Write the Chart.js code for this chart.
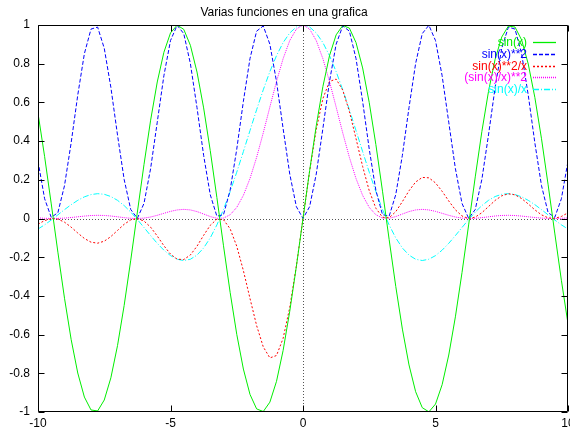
<!DOCTYPE html>
<html>
<head>
<meta charset="utf-8">
<script src="https://cdn.jsdelivr.net/npm/chart.js@4/dist/chart.umd.min.js"></script>
<style>
html,body{margin:0;padding:0;background:#fff;}
canvas{display:block;}
</style>
</head>
<body>
<canvas id="c" width="570" height="431"></canvas>
<script>
const titleText = 'Varias funciones en una grafica';
const seriesNames = ['sin(x)', 'sin(x)**2', 'sin(x)**2/x', '(sin(x)/x)**2', 'sin(x)/x'];
const xTicks = [-10, -5, 0, 5, 10];
const xTickLabels = ['-10', '-5', '0', '5', '10'];
const yTicks = [-1, -0.8, -0.6, -0.4, -0.2, 0, 0.2, 0.4, 0.6, 0.8, 1];
const yTickLabels = ['-1', '-0.8', '-0.6', '-0.4', '-0.2', '0', '0.2', '0.4', '0.6', '0.8', '1'];

const xs = [-10,-9.75,-9.5,-9.25,-9,-8.75,-8.5,-8.25,-8,-7.75,-7.5,-7.25,-7,-6.75,-6.5,-6.25,-6,-5.75,-5.5,-5.25,-5,-4.75,-4.5,-4.25,-4,-3.75,-3.5,-3.25,-3,-2.75,-2.5,-2.25,-2,-1.75,-1.5,-1.25,-1,-0.75,-0.5,-0.25,0,0.25,0.5,0.75,1,1.25,1.5,1.75,2,2.25,2.5,2.75,3,3.25,3.5,3.75,4,4.25,4.5,4.75,5,5.25,5.5,5.75,6,6.25,6.5,6.75,7,7.25,7.5,7.75,8,8.25,8.5,8.75,9,9.25,9.5,9.75,10];

const sinVals = [0.544,0.3195,0.0752,-0.1739,-0.4121,-0.6247,-0.7985,-0.9228,-0.9894,-0.9946,-0.938,-0.8231,-0.657,-0.45,-0.2151,0.0332,0.2794,0.5083,0.7055,0.8589,0.9589,0.9993,0.9775,0.895,0.7568,0.5716,0.3508,0.1082,-0.1411,-0.3817,-0.5985,-0.7781,-0.9093,-0.984,-0.9975,-0.949,-0.8415,-0.6816,-0.4794,-0.2474,0,0.2474,0.4794,0.6816,0.8415,0.949,0.9975,0.984,0.9093,0.7781,0.5985,0.3817,0.1411,-0.1082,-0.3508,-0.5716,-0.7568,-0.895,-0.9775,-0.9993,-0.9589,-0.8589,-0.7055,-0.5083,-0.2794,-0.0332,0.2151,0.45,0.657,0.8231,0.938,0.9946,0.9894,0.9228,0.7985,0.6247,0.4121,0.1739,-0.0752,-0.3195,-0.544];

const sinSqVals = [0.2959,0.1021,0.0057,0.0302,0.1698,0.3902,0.6376,0.8516,0.9789,0.9892,0.8798,0.6775,0.4316,0.2025,0.0463,0.0011,0.0781,0.2584,0.4977,0.7377,0.9195,0.9986,0.9555,0.801,0.5728,0.3267,0.1231,0.0117,0.0199,0.1457,0.3582,0.6054,0.8268,0.9683,0.995,0.9006,0.7081,0.4646,0.2298,0.0612,0,0.0612,0.2298,0.4646,0.7081,0.9006,0.995,0.9683,0.8268,0.6054,0.3582,0.1457,0.0199,0.0117,0.1231,0.3267,0.5728,0.801,0.9555,0.9986,0.9195,0.7377,0.4977,0.2584,0.0781,0.0011,0.0463,0.2025,0.4316,0.6775,0.8798,0.9892,0.9789,0.8516,0.6376,0.3902,0.1698,0.0302,0.0057,0.1021,0.2959];

const sinSqOverXVals = [-0.0296,-0.0105,-0.0006,-0.0033,-0.0189,-0.0446,-0.075,-0.1032,-0.1224,-0.1276,-0.1173,-0.0934,-0.0617,-0.03,-0.0071,-0.0002,-0.013,-0.0449,-0.0905,-0.1405,-0.1839,-0.2102,-0.2123,-0.1885,-0.1432,-0.0871,-0.0352,-0.0036,-0.0066,-0.053,-0.1433,-0.2691,-0.4134,-0.5533,-0.6633,-0.7205,-0.7081,-0.6194,-0.4597,-0.2448,0,0.2448,0.4597,0.6194,0.7081,0.7205,0.6633,0.5533,0.4134,0.2691,0.1433,0.053,0.0066,0.0036,0.0352,0.0871,0.1432,0.1885,0.2123,0.2102,0.1839,0.1405,0.0905,0.0449,0.013,0.0002,0.0071,0.03,0.0617,0.0934,0.1173,0.1276,0.1224,0.1032,0.075,0.0446,0.0189,0.0033,0.0006,0.0105,0.0296];

const sincSqVals = [0.003,0.0011,0.0001,0.0004,0.0021,0.0051,0.0088,0.0125,0.0153,0.0165,0.0156,0.0129,0.0088,0.0044,0.0011,0,0.0022,0.0078,0.0165,0.0268,0.0368,0.0443,0.0472,0.0443,0.0358,0.0232,0.01,0.0011,0.0022,0.0193,0.0573,0.1196,0.2067,0.3162,0.4422,0.5764,0.7081,0.8261,0.9195,0.9793,1,0.9793,0.9195,0.8261,0.7081,0.5764,0.4422,0.3162,0.2067,0.1196,0.0573,0.0193,0.0022,0.0011,0.01,0.0232,0.0358,0.0443,0.0472,0.0443,0.0368,0.0268,0.0165,0.0078,0.0022,0,0.0011,0.0044,0.0088,0.0129,0.0156,0.0165,0.0153,0.0125,0.0088,0.0051,0.0021,0.0004,0.0001,0.0011,0.003];

const sincVals = [-0.0544,-0.0328,-0.0079,0.0188,0.0458,0.0714,0.0939,0.1119,0.1237,0.1283,0.1251,0.1135,0.0939,0.0667,0.0331,-0.0053,-0.0466,-0.0884,-0.1283,-0.1636,-0.1918,-0.2104,-0.2172,-0.2106,-0.1892,-0.1524,-0.1002,-0.0333,0.047,0.1388,0.2394,0.3458,0.4546,0.5623,0.665,0.7592,0.8415,0.9089,0.9589,0.9896,1,0.9896,0.9589,0.9089,0.8415,0.7592,0.665,0.5623,0.4546,0.3458,0.2394,0.1388,0.047,-0.0333,-0.1002,-0.1524,-0.1892,-0.2106,-0.2172,-0.2104,-0.1918,-0.1636,-0.1283,-0.0884,-0.0466,-0.0053,0.0331,0.0667,0.0939,0.1135,0.1251,0.1283,0.1237,0.1119,0.0939,0.0714,0.0458,0.0188,-0.0079,-0.0328,-0.0544];

const seriesValues = [sinVals, sinSqVals, sinSqOverXVals, sincSqVals, sincVals];
const seriesColors = ['#00ee00', '#0000ff', '#ff0000', '#ff00ff', '#00ffff'];
const seriesDashes = [[], [4, 2], [2, 2], [1, 1], [6, 2, 1, 2]];

const FONT = '"Liberation Sans", Arial, sans-serif';

const datasets = seriesNames.map((name, i) => ({
  label: name,
  data: xs.map((x, j) => ({ x: x, y: seriesValues[i][j] })),
  borderColor: seriesColors[i],
  backgroundColor: seriesColors[i],
  borderWidth: 1,
  borderDash: seriesDashes[i],
  pointRadius: 0,
  pointHoverRadius: 0,
  tension: 0,
  fill: false
}));

const frame = {
  id: 'gnuplotFrame',
  beforeDatasetsDraw(chart) {
    const { ctx, chartArea: a, scales: { x, y } } = chart;
    ctx.save();
    ctx.strokeStyle = '#555555';
    ctx.lineWidth = 1;
    ctx.setLineDash([1, 2]);
    const x0 = Math.round(x.getPixelForValue(0)) + 0.5;
    const y0 = Math.round(y.getPixelForValue(0)) + 0.5;
    ctx.beginPath();
    ctx.moveTo(x0, a.top); ctx.lineTo(x0, a.bottom);
    ctx.moveTo(a.left, y0); ctx.lineTo(a.right, y0);
    ctx.stroke();
    ctx.restore();
  },
  afterDatasetsDraw(chart) {
    const { ctx, chartArea: a, scales: { x, y } } = chart;
    const L = Math.round(a.left) + 0.5, R = Math.round(a.right) - 0.5;
    const T = Math.round(a.top) + 0.5, B = Math.round(a.bottom) - 0.5;
    ctx.save();
    ctx.strokeStyle = '#000';
    ctx.lineWidth = 1;
    ctx.setLineDash([]);
    ctx.beginPath();
    ctx.rect(L, T, R - L, B - T);
    const tl = 6;
    xTicks.forEach(v => {
      const px = Math.round(x.getPixelForValue(v)) + 0.5;
      ctx.moveTo(px, B); ctx.lineTo(px, B - tl);
      ctx.moveTo(px, T); ctx.lineTo(px, T + tl);
    });
    yTicks.forEach(v => {
      const py = Math.round(y.getPixelForValue(v)) + 0.5;
      ctx.moveTo(L, py); ctx.lineTo(L + tl, py);
      ctx.moveTo(R, py); ctx.lineTo(R - tl, py);
    });
    ctx.stroke();
    ctx.restore();

    // key (legend) in gnuplot style: right-aligned text, then line sample
    const textRight = a.right - 41;
    const s0 = a.right - 35, s1 = a.right - 12;
    seriesNames.forEach((name, i) => {
      const ry = Math.round(a.top + 17 + i * 11.8) + 0.5;
      ctx.save();
      ctx.font = '12px ' + FONT;
      ctx.textAlign = 'right';
      ctx.textBaseline = 'middle';
      ctx.fillStyle = seriesColors[i];
      ctx.fillText(name, textRight, ry);
      ctx.restore();
      ctx.save();
      ctx.lineWidth = 1.3;
      ctx.setLineDash(seriesDashes[i]);
      ctx.strokeStyle = seriesColors[i];
      ctx.beginPath();
      ctx.moveTo(s0, ry);
      ctx.lineTo(s1, ry);
      ctx.stroke();
      ctx.restore();
    });
  }
};

new Chart(document.getElementById('c'), {
  type: 'line',
  data: { datasets },
  options: {
    responsive: false,
    animation: false,
    devicePixelRatio: 1,
    layout: { padding: { left: 0, right: 2, top: 0, bottom: 0 } },
    plugins: {
      legend: { display: false },
      tooltip: { enabled: false },
      title: {
        display: true,
        text: titleText,
        color: '#000',
        font: { family: FONT, size: 12, weight: 'normal', lineHeight: 1 },
        padding: { top: 7, bottom: 6 }
      }
    },
    scales: {
      x: {
        type: 'linear',
        min: -10, max: 10,
        grid: { display: false, drawTicks: false },
        border: { display: false },
        afterBuildTicks: s => { s.ticks = xTicks.map(v => ({ value: v })); },
        afterFit: s => { s.height = 19; s.paddingLeft = 0; s.paddingRight = 0; },
        ticks: {
          autoSkip: false, maxRotation: 0, minRotation: 0, padding: 4,
          color: '#000', font: { family: FONT, size: 12 },
          callback: v => xTickLabels[xTicks.indexOf(v)]
        }
      },
      y: {
        type: 'linear',
        min: -1, max: 1,
        grid: { display: false, drawTicks: false },
        border: { display: false },
        afterBuildTicks: s => { s.ticks = yTicks.map(v => ({ value: v })); },
        afterFit: s => { s.width = 38; s.paddingTop = 0; s.paddingBottom = 0; },
        ticks: {
          autoSkip: false, padding: 8,
          color: '#000', font: { family: FONT, size: 12 },
          callback: v => yTickLabels[yTicks.indexOf(v)]
        }
      }
    }
  },
  plugins: [frame]
});
</script>
</body>
</html>
